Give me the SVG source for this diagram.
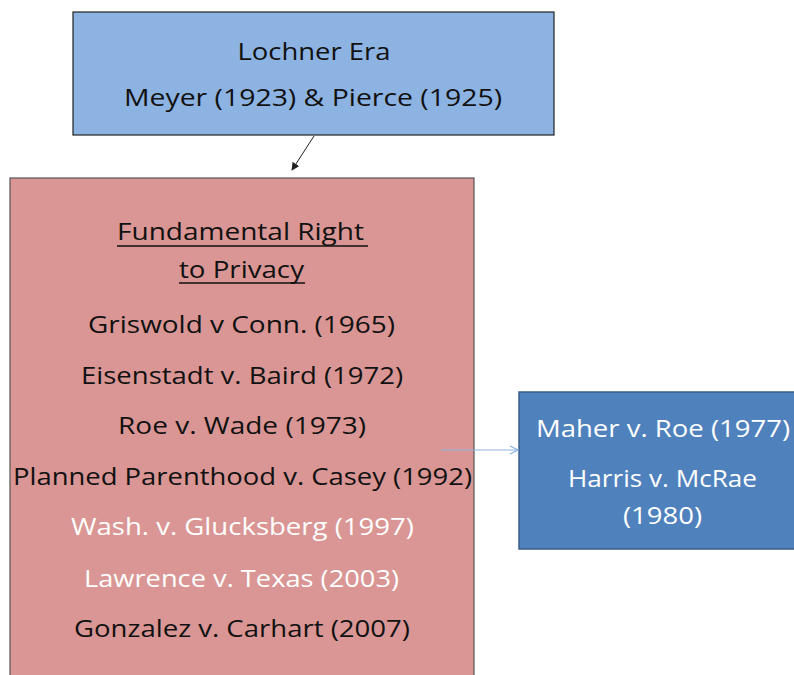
<svg xmlns="http://www.w3.org/2000/svg" width="794" height="675" viewBox="0 0 794 675">
<defs>
<style>
text{font-family:"Open Sans","Liberation Sans",sans-serif;font-size:24px;text-anchor:middle}
.dk{fill:#111}
.wh{fill:#fff}
</style>
<marker id="ah" viewBox="0 0 10 10" refX="9" refY="5" markerWidth="8" markerHeight="8" orient="auto" markerUnits="userSpaceOnUse"><path d="M0,0L10,5L0,10z" fill="#222"/></marker>
<marker id="ao" viewBox="0 0 10 10" refX="9" refY="5" markerWidth="10" markerHeight="10" orient="auto" markerUnits="userSpaceOnUse"><path d="M1,1L9,5L1,9" fill="none" stroke="#8DB3E2" stroke-width="1.2"/></marker>
</defs>
<rect width="794" height="675" fill="#fff"/>
<g id="lochner">
<rect x="73" y="12" width="481" height="123" fill="#8DB3E2" stroke="#222" stroke-width="1.2"/>
<text class="dk" x="314" y="60" textLength="153" lengthAdjust="spacingAndGlyphs">Lochner Era</text>
<text class="dk" x="313" y="106" textLength="378" lengthAdjust="spacingAndGlyphs">Meyer (1923) &amp; Pierce (1925)</text>
</g>
<g id="privacy">
<rect x="10" y="178" width="464" height="510" fill="#D99694" stroke="#555" stroke-width="1.2"/>
<text class="dk" x="240.5" y="240" textLength="247" lengthAdjust="spacingAndGlyphs">Fundamental Right</text>
<line x1="117" y1="246" x2="368" y2="246" stroke="#111" stroke-width="1.3"/>
<text class="dk" x="241.5" y="278" textLength="125" lengthAdjust="spacingAndGlyphs">to Privacy</text>
<line x1="179" y1="283" x2="305" y2="283" stroke="#111" stroke-width="1.3"/>
<text class="dk" x="241.5" y="333" textLength="307" lengthAdjust="spacingAndGlyphs">Griswold v Conn. (1965)</text>
<text class="dk" x="242" y="384" textLength="322" lengthAdjust="spacingAndGlyphs">Eisenstadt v. Baird (1972)</text>
<text class="dk" x="242" y="434" textLength="248" lengthAdjust="spacingAndGlyphs">Roe v. Wade (1973)</text>
<text class="dk" x="242.5" y="485" textLength="459" lengthAdjust="spacingAndGlyphs">Planned Parenthood v. Casey (1992)</text>
<text class="wh" x="242.5" y="535" textLength="343" lengthAdjust="spacingAndGlyphs">Wash. v. Glucksberg (1997)</text>
<text class="wh" x="241.5" y="587" textLength="315" lengthAdjust="spacingAndGlyphs">Lawrence v. Texas (2003)</text>
<text class="dk" x="242" y="637" textLength="336" lengthAdjust="spacingAndGlyphs">Gonzalez v. Carhart (2007)</text>
</g>
<g id="funding">
<rect x="519" y="392" width="290" height="157" fill="#4F81BD" stroke="#385D8A" stroke-width="1.5"/>
<text class="wh" x="663" y="437" textLength="254" lengthAdjust="spacingAndGlyphs">Maher  v. Roe (1977)</text>
<text class="wh" x="662.5" y="487" textLength="189" lengthAdjust="spacingAndGlyphs">Harris v. McRae</text>
<text class="wh" x="662.5" y="524" textLength="79" lengthAdjust="spacingAndGlyphs">(1980)</text>
</g>
<g id="connectors">
<line x1="314" y1="136" x2="292" y2="170" stroke="#222" stroke-width="1" marker-end="url(#ah)"/>
<line x1="441" y1="450" x2="518" y2="450" stroke="#8DB3E2" stroke-width="1.2" marker-end="url(#ao)"/>
</g>
</svg>
